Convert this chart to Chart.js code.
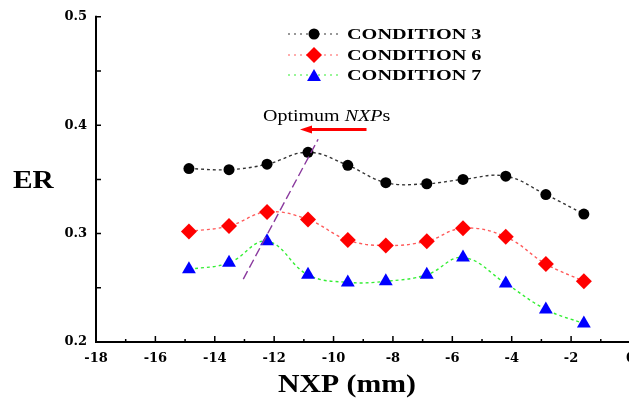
<!DOCTYPE html>
<html>
<head>
<meta charset="utf-8">
<script src="https://cdn.jsdelivr.net/npm/chart.js@4.4.1/dist/chart.umd.min.js"></script>
<style>
  html, body { margin: 0; padding: 0; background: #fff; overflow: hidden; }
  #wrap { width: 644px; height: 401px; position: relative; }
</style>
</head>
<body>
<div id="wrap"><canvas id="grafico"></canvas></div>
<script>
// values
const nxp = [-14.87, -13.52, -12.24, -10.86, -9.52, -8.24, -6.86, -5.64, -4.2, -2.85, -1.57];
const condition3 = [0.360, 0.359, 0.364, 0.375, 0.363, 0.347, 0.346, 0.350, 0.353, 0.336, 0.318];
const condition6 = [0.302, 0.307, 0.320, 0.313, 0.294, 0.289, 0.293, 0.305, 0.297, 0.272, 0.256];
const condition7 = [0.267, 0.273, 0.293, 0.262, 0.255, 0.256, 0.262, 0.278, 0.254, 0.230, 0.217];
const seriesNames = ['CONDITION 3', 'CONDITION 6', 'CONDITION 7'];
const optimumX = [-13.04, -10.52];
const optimumY = [0.258, 0.387];
const arrowX = [-8.89, -11.13];
const arrowY = 0.396;

const lineColors = ['#333333', '#ff5a5a', '#33ee33'];
const markColors = ['#000000', '#ff0000', '#0000ff'];
const markStyles = ['circle', 'rectRot', 'triangle'];
const markSizes = [5.5, 8, 8];

function pts(ys) {
    return nxp.map(function (v, i) { return { x: v, y: ys[i] }; });
}

function drawMark(ctx, style, r, cx, cy, color) {
    ctx.fillStyle = color;
    ctx.beginPath();
    if (style === 'circle') {
        ctx.arc(cx, cy, r, 0, Math.PI * 2);
    } else if (style === 'rectRot') {
        ctx.moveTo(cx - r, cy); ctx.lineTo(cx, cy - r); ctx.lineTo(cx + r, cy); ctx.lineTo(cx, cy + r);
    } else {
        ctx.moveTo(cx, cy - r); ctx.lineTo(cx + r * 0.866, cy + r / 2); ctx.lineTo(cx - r * 0.866, cy + r / 2);
    }
    ctx.closePath();
    ctx.fill();
}

function stretchedText(ctx, txt, x, y, sx) {
    ctx.save();
    ctx.translate(x, y);
    ctx.scale(sx, 1);
    ctx.fillText(txt, 0, 0);
    const w = ctx.measureText(txt).width * sx;
    ctx.restore();
    return w;
}

const enfeites = {
    id: 'enfeites',
    afterDraw(chart) {
        const ctx = chart.ctx;
        const a = chart.chartArea;
        const sx = chart.scales.x, sy = chart.scales.y;
        ctx.save();

        // axes with inward ticks
        ctx.strokeStyle = '#000';
        ctx.lineWidth = 2;
        ctx.beginPath();
        ctx.moveTo(a.left, a.top - 1);
        ctx.lineTo(a.left, a.bottom);
        ctx.lineTo(a.right + 2, a.bottom);
        ctx.stroke();
        ctx.lineWidth = 1.5;
        ctx.beginPath();
        for (let v = -18; v <= 0; v++) {
            const px = sx.getPixelForValue(v);
            const len = v % 2 === 0 ? 6 : 3;
            ctx.moveTo(px, a.bottom); ctx.lineTo(px, a.bottom - len);
        }
        for (let k = 1; k <= 6; k++) {
            const py = sy.getPixelForValue(0.2 + k * 0.05);
            ctx.moveTo(a.left, py); ctx.lineTo(a.left + 5, py);
        }
        ctx.stroke();

        // legend
        const rows = [34, 55, 75];
        ctx.font = 'bold 15px "Liberation Serif"';
        ctx.textBaseline = 'middle';
        for (let i = 0; i < 3; i++) {
            ctx.strokeStyle = lineColors[i];
            ctx.lineWidth = 1.2;
            ctx.setLineDash([2, 4]);
            ctx.beginPath();
            ctx.moveTo(288, rows[i]); ctx.lineTo(338, rows[i]);
            ctx.stroke();
            ctx.setLineDash([]);
            drawMark(ctx, markStyles[i], markSizes[i], 314, rows[i] + (i === 2 ? 2 : 0), markColors[i]);
            ctx.fillStyle = '#000';
            stretchedText(ctx, seriesNames[i], 347, rows[i] + 1, 1.35);
        }

        // optimum arrow
        const ay = sy.getPixelForValue(arrowY);
        const x1 = sx.getPixelForValue(arrowX[0]);
        const x2 = sx.getPixelForValue(arrowX[1]);
        ctx.strokeStyle = '#ff0000';
        ctx.fillStyle = '#ff0000';
        ctx.lineWidth = 3;
        ctx.beginPath();
        ctx.moveTo(x1, ay); ctx.lineTo(x2 + 10, ay);
        ctx.stroke();
        ctx.beginPath();
        ctx.moveTo(x2, ay); ctx.lineTo(x2 + 12, ay - 4); ctx.lineTo(x2 + 12, ay + 4);
        ctx.closePath();
        ctx.fill();

        // annotation text
        ctx.fillStyle = '#000';
        ctx.textBaseline = 'alphabetic';
        let tx = 263;
        ctx.font = '16px "Liberation Serif"';
        tx += stretchedText(ctx, 'Optimum ', tx, 121, 1.25);
        ctx.font = 'italic 16px "Liberation Serif"';
        tx += stretchedText(ctx, 'NXP', tx, 121, 1.25);
        ctx.font = '16px "Liberation Serif"';
        stretchedText(ctx, 's', tx, 121, 1.25);

        // axis titles
        ctx.font = 'bold 26px "Liberation Serif"';
        stretchedText(ctx, 'ER', 13, 188, 1.13);
        ctx.font = 'bold 25px "Liberation Serif"';
        stretchedText(ctx, 'NXP (mm)', 278, 392, 1.19);

        ctx.restore();
    }
};

const serieBase = {
    showLine: true,
    tension: 0.4,
    borderWidth: 1.4,
    borderDash: [3, 3],
    pointBorderWidth: 0,
    clip: false
};

new Chart(document.getElementById('grafico'), {
    type: 'scatter',
    data: {
        datasets: [
            {
                label: 'Optimum NXPs',
                data: optimumX.map(function (v, i) { return { x: v, y: optimumY[i] }; }),
                showLine: true,
                borderColor: '#8a3a9e',
                borderWidth: 1.4,
                borderDash: [9, 4],
                pointRadius: 0,
                tension: 0,
                order: 1
            },
            Object.assign({}, serieBase, {
                label: seriesNames[0], data: pts(condition3),
                borderColor: lineColors[0], backgroundColor: markColors[0],
                pointStyle: markStyles[0], pointRadius: markSizes[0], order: 4
            }),
            Object.assign({}, serieBase, {
                label: seriesNames[1], data: pts(condition6),
                borderColor: lineColors[1], backgroundColor: markColors[1],
                pointStyle: markStyles[1], pointRadius: markSizes[1], order: 3
            }),
            Object.assign({}, serieBase, {
                label: seriesNames[2], data: pts(condition7),
                borderColor: lineColors[2], backgroundColor: markColors[2],
                pointStyle: markStyles[2], pointRadius: markSizes[2], order: 2
            })
        ]
    },
    options: {
        responsive: true,
        maintainAspectRatio: false,
        animation: false,
        layout: { padding: { top: 11, right: 0, left: 0, bottom: 0 } },
        plugins: {
            legend: { display: false },
            tooltip: { enabled: false }
        },
        scales: {
            x: {
                type: 'linear',
                min: -18,
                max: 0,
                border: { display: false },
                grid: { display: false, drawTicks: false },
                ticks: {
                    stepSize: 2,
                    padding: 9,
                    color: '#000',
                    font: { family: 'DejaVu Serif', weight: 'bold', size: 13 }
                },
                afterFit: function (s) { s.height = 59; }
            },
            y: {
                min: 0.2,
                max: 0.5,
                border: { display: false },
                grid: { display: false, drawTicks: false },
                ticks: {
                    stepSize: 0.1,
                    padding: 9,
                    color: '#000',
                    font: { family: 'DejaVu Serif', weight: 'bold', size: 13 },
                    callback: function (v) { return v.toFixed(1); }
                },
                afterFit: function (s) { s.width = 96; }
            }
        }
    },
    plugins: [enfeites]
});
</script>
</body>
</html>
